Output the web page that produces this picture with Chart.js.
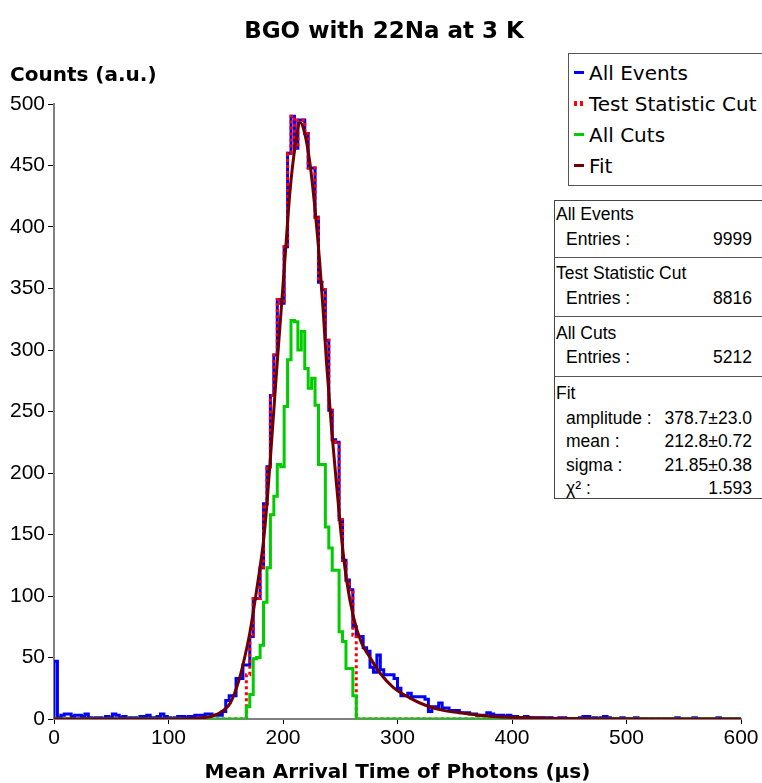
<!DOCTYPE html>
<html>
<head>
<meta charset="utf-8">
<script src="https://cdn.jsdelivr.net/npm/chart.js@4.4.1/dist/chart.umd.min.js"></script>
<style>
  html, body { margin:0; padding:0; background:#fff; }
  #wrap { position:relative; width:762px; height:783px; overflow:hidden; background:#fff; }
  canvas { position:absolute; left:0; top:0; }
  .t { position:absolute; white-space:nowrap; color:#000; line-height:20px; }
  .bold { font-family:'DejaVu Sans', sans-serif; font-weight:bold; font-size:20px; }
  .st { font-family:'Liberation Sans', Arial, sans-serif; font-size:17.5px; }
  .lg { font-family:'DejaVu Sans', sans-serif; font-size:20px; }
  .mk { position:absolute; width:10px; height:3px; }
  .sep { position:absolute; left:0; right:0; height:0; border-top:1px solid #555; }
</style>
</head>
<body>
<div id="wrap">
  <canvas id="c" width="762" height="783"></canvas>

  <div class="t bold" style="left:3px;width:762px;text-align:center;top:18px;font-size:23px;line-height:24px;">BGO with 22Na at 3 K</div>
  <div class="t bold" style="left:10px;top:64px;">Counts (a.u.)</div>
  <div class="t bold" style="left:54px;width:687px;text-align:center;top:761px;">Mean Arrival Time of Photons (µs)</div>

  <div id="legend" style="position:absolute;left:568px;top:53px;width:210px;height:131px;border:1px solid #555;background:#fff;">
    <div class="mk" style="left:5px;top:17px;background:#0000ff;"></div>
    <div class="t lg" style="left:20px;top:9px;">All Events</div>
    <div class="mk" style="left:5px;top:47px;width:3px;height:5px;background:#ff0000;"></div>
    <div class="mk" style="left:11px;top:47px;width:3px;height:5px;background:#ff0000;"></div>
    <div class="t lg" style="left:20px;top:40px;">Test Statistic Cut</div>
    <div class="mk" style="left:5px;top:79px;background:#00cc00;"></div>
    <div class="t lg" style="left:20px;top:71px;">All Cuts</div>
    <div class="mk" style="left:5px;top:110px;background:#6e0000;"></div>
    <div class="t lg" style="left:20px;top:102px;">Fit</div>
  </div>

  <div id="stats" style="position:absolute;left:554px;top:200px;width:220px;height:297px;border:1px solid #444;background:#fff;">
    <div class="sep" style="top:56px;"></div>
    <div class="sep" style="top:115px;"></div>
    <div class="sep" style="top:175px;"></div>
  </div>
  <div class="t st" style="left:556px;top:204px;">All Events</div>
  <div class="t st" style="left:566px;top:229px;">Entries :</div>
  <div class="t st" style="right:10px;top:229px;">9999</div>
  <div class="t st" style="left:556px;top:263px;">Test Statistic Cut</div>
  <div class="t st" style="left:566px;top:288px;">Entries :</div>
  <div class="t st" style="right:10px;top:288px;">8816</div>
  <div class="t st" style="left:556px;top:323px;">All Cuts</div>
  <div class="t st" style="left:566px;top:347px;">Entries :</div>
  <div class="t st" style="right:10px;top:347px;">5212</div>
  <div class="t st" style="left:556px;top:383px;">Fit</div>
  <div class="t st" style="left:566px;top:408px;">amplitude :</div>
  <div class="t st" style="right:10px;top:408px;">378.7±23.0</div>
  <div class="t st" style="left:566px;top:431px;">mean :</div>
  <div class="t st" style="right:10px;top:431px;">212.8±0.72</div>
  <div class="t st" style="left:566px;top:455px;">sigma :</div>
  <div class="t st" style="right:10px;top:455px;">21.85±0.38</div>
  <div class="t st" style="left:566px;top:478px;">χ² :</div>
  <div class="t st" style="right:10px;top:478px;">1.593</div>
</div>

<script>
// ---- data ----
const binWidth = 3;           // µs per bin, 200 bins over 0..600
const xMin = 0, xMax = 600;
const yMin = 0, yMax = 500;
const xTickStep = 100;
const yTickStep = 50;

// All Events: counts per bin, bins 0..199
const allEvents = [
  47, 1, 3, 4, 4, 2, 3, 3, 2, 4,
  1, 0, 1, 1, 0, 2, 1, 4, 3, 1,
  2, 0, 1, 1, 0, 2, 2, 3, 1, 1,
  2, 4, 2, 1, 0, 1, 2, 2, 1, 2,
  2, 3, 3, 3, 4, 4, 3, 3, 3, 6,
  15, 19, 19, 33, 33, 44, 44, 67, 98, 98,
  123, 175, 205, 263, 296, 341, 338, 384, 460, 490,
  464, 487, 487, 476, 448, 448, 408, 355, 349, 308,
  251, 227, 225, 162, 129, 113, 105, 75, 67, 67,
  58, 55, 42, 38, 52, 40, 36, 36, 36, 33,
  25, 19, 19, 21, 18, 18, 18, 18, 16, 6,
  10, 10, 13, 9, 9, 7, 7, 7, 5, 5,
  5, 4, 4, 3, 3, 3, 5, 4, 3, 3,
  3, 2, 3, 2, 2, 1, 1, 2, 1, 1,
  1, 1, 1, 0, 1, 0, 0, 1, 1, 0,
  0, 0, 0, 1, 2, 2, 0, 1, 0, 1,
  2, 1, 0, 0, 0, 1, 0, 0, 0, 1,
  0, 0, 0, 0, 0, 0, 0, 0, 0, 0,
  0, 1, 0, 0, 0, 0, 1, 0, 0, 0,
  0, 0, 0, 1, 0, 0, 0, 0, 0, 0
];

// Test Statistic Cut: non-zero bins start at bin 56
const testStatFirstBin = 56;
const testStatCut = [
  36, 67, 98, 98, 123, 175, 205, 263, 296, 341,
  338, 384, 460, 490, 464, 487, 487, 476, 448, 448,
  408, 355, 349, 308, 251, 227, 225, 162, 129, 113,
  105, 68
];

// All Cuts: non-zero bins start at bin 56
const allCutsFirstBin = 56;
const allCuts = [
  10, 20, 49, 50, 60, 95, 123, 166, 181, 207,
  205, 254, 292, 324, 323, 300, 315, 285, 269, 277,
  255, 207, 207, 156, 139, 121, 121, 71, 63, 41,
  41, 19
];

// Fit curve
const fitX = [0, 100, 120, 133, 139, 148, 154, 162, 167, 171, 177, 183, 186, 190, 194.5, 199, 202, 206, 210.5, 215,
              219, 223.5, 228, 232, 235, 238, 242.5, 248, 251, 255.5, 261.5, 268.5, 276, 285, 296, 311, 325, 340, 355,
              383, 413, 442, 480, 520, 600];
const fitY = [0, 0, 0.5, 1.5, 2.5, 7, 13, 33, 52, 70, 105, 145, 175, 225, 284, 340, 378, 428, 465, 485,
              476, 452, 414, 372, 333, 290, 235, 178, 148, 113, 83, 62, 50, 37, 26, 17, 11, 7, 5,
              2, 1, 0.5, 0.2, 0.1, 0];

// ---- build histogram step points ----
function histPoints(values, firstBin) {
  const nBins = Math.round((xMax - xMin) / binWidth);
  const pts = [{x: xMin, y: 0}];
  let last = 0;
  for (let i = 0; i < nBins; i++) {
    const j = i - firstBin;
    const v = (j >= 0 && j < values.length) ? values[j] : 0;
    pts.push({x: xMin + i * binWidth, y: v});
    last = v;
  }
  pts.push({x: xMax, y: last});
  return pts;
}
const fitPts = fitX.map((x, i) => ({x: x, y: fitY[i]}));

const tickFont = {family: "'Liberation Sans', Arial, sans-serif", size: 21};

new Chart(document.getElementById('c'), {
  type: 'line',
  data: {
    datasets: [
      { label: 'Fit', data: fitPts, borderColor: '#6e0000', borderWidth: 3, pointRadius: 0,
        cubicInterpolationMode: 'monotone', fill: false, order: 0 },
      { label: 'All Cuts', data: histPoints(allCuts, allCutsFirstBin), borderColor: '#00cc00', borderWidth: 3,
        pointRadius: 0, stepped: true, fill: false, order: 1 },
      { label: 'Test Statistic Cut', data: histPoints(testStatCut, testStatFirstBin), borderColor: '#ff0000',
        borderWidth: 3, borderDash: [3, 3], pointRadius: 0, stepped: true, fill: false, order: 2 },
      { label: 'All Events', data: histPoints(allEvents, 0), borderColor: '#0000ff', borderWidth: 3,
        pointRadius: 0, stepped: true, fill: false, order: 3 }
    ]
  },
  options: {
    responsive: false,
    animation: false,
    devicePixelRatio: 1,
    layout: { padding: { top: 104, right: 21, left: 0, bottom: 0 } },
    plugins: { legend: { display: false }, tooltip: { enabled: false }, title: { display: false } },
    scales: {
      x: {
        type: 'linear', min: xMin, max: xMax,
        ticks: { stepSize: xTickStep, font: tickFont, color: '#000', padding: 2, maxRotation: 0 },
        grid: { drawOnChartArea: false, drawTicks: true, tickLength: 5, tickColor: '#000', tickWidth: 1 },
        border: { color: '#808080', width: 2 },
        afterFit: s => { s.height = 64; }
      },
      y: {
        type: 'linear', min: yMin, max: yMax,
        ticks: { stepSize: yTickStep, font: tickFont, color: '#000', padding: 3 },
        grid: { drawOnChartArea: false, drawTicks: true, tickLength: 6, tickColor: '#000', tickWidth: 1 },
        border: { color: '#808080', width: 2 },
        afterFit: s => { s.width = 54; }
      }
    }
  }
});
</script>
</body>
</html>
